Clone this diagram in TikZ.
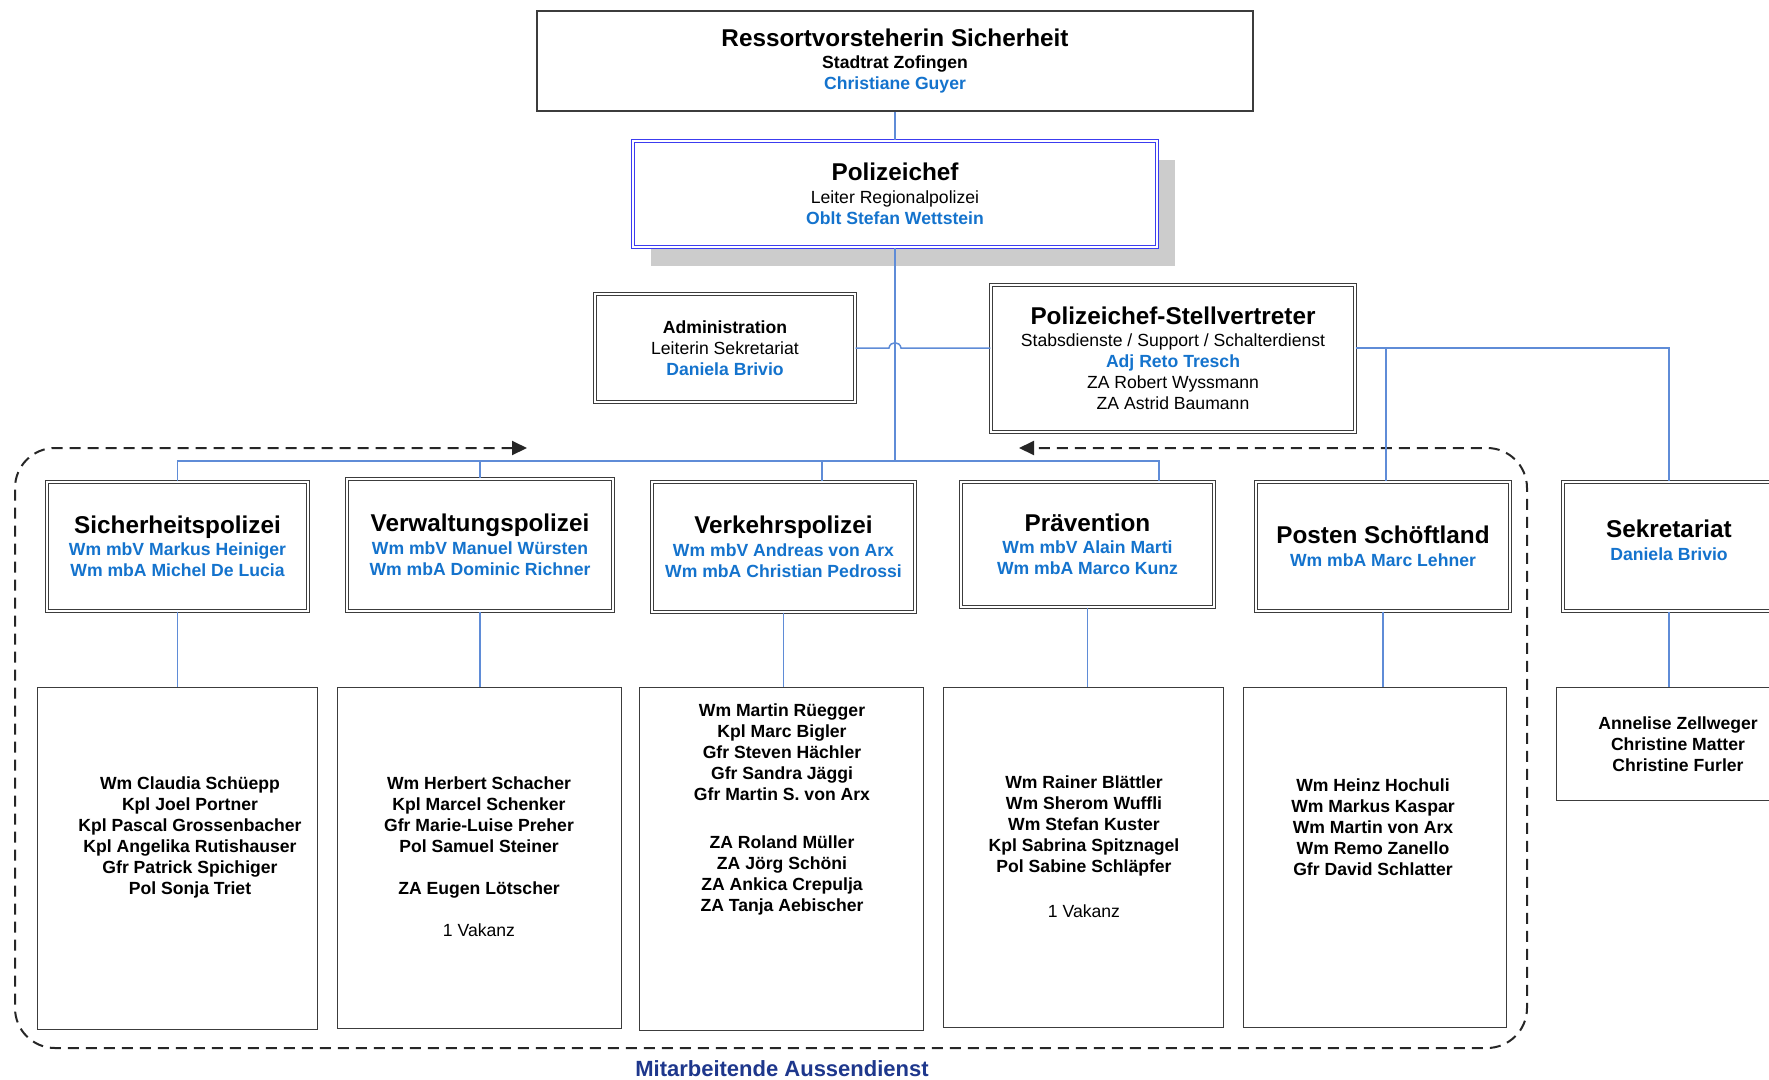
\documentclass[tikz,border=0pt]{standalone}
\usepackage{fontspec}
\setmainfont{Liberation Sans}
\usetikzlibrary{arrows.meta,shadows}
\definecolor{orgblue}{RGB}{20,115,205}
\definecolor{orgnavy}{RGB}{30,55,140}
\definecolor{orgline}{RGB}{95,140,215}
\definecolor{chefblue}{RGB}{60,60,240}
\definecolor{boxframe}{RGB}{60,60,60}
\newcommand{\orgtitle}[1]{{\fontsize{24.3}{26}\selectfont\bfseries #1}}
\newcommand{\orgname}[1]{{\color{orgblue}\bfseries #1}}

\begin{document}
\begin{tikzpicture}[x=1pt, y=-1pt,
    font=\fontsize{17.6}{21}\selectfont,
    every node/.style={align=center, inner sep=0pt},
    plainbox/.style={draw=boxframe, line width=1.5pt, fill=white},
    dblbox/.style={draw=boxframe, double=white, double distance=2pt, line width=1.2pt, fill=white},
    chefbox/.style={draw=chefblue, double=white, double distance=1.6pt, line width=1.3pt, fill=white,
      drop shadow={shadow xshift=18pt, shadow yshift=-19pt, opacity=1, fill=black!20}},
    crew/.style={plainbox, font=\fontsize{17.6}{21}\selectfont\bfseries},
    crewtext/.style={font=\fontsize{17.6}{21}\selectfont\bfseries},
    conn/.style={draw=orgline, line width=1.5pt},
    group/.style={draw=black!85, line width=2pt, dash pattern=on 11pt off 7pt, rounded corners=40pt}]
  \useasboundingbox (0,0) rectangle (1769,1079);

  \draw[group, {Triangle[length=15pt,width=14pt]}-{Triangle[length=15pt,width=14pt]}]
    (527,448) -- (15,448) -- (15,1048) -- (1527,1048) -- (1527,448) -- (1019,448);
  \node[font=\fontsize{22}{24}\selectfont\bfseries, text=orgnavy] (aussen) at (782,1069) {Mitarbeitende Aussendienst};

  \node[plainbox, minimum width=716pt, minimum height=100pt] (rvs) at (895,61)
    {\orgtitle{Ressortvorsteherin Sicherheit}\\[1.5pt] \textbf{Stadtrat Zofingen}\\ \orgname{Christiane Guyer}};
  \node[chefbox, minimum width=524pt, minimum height=106pt] (chef) at (895,194)
    {\orgtitle{Polizeichef}\\[1.5pt] Leiter Regionalpolizei\\ \orgname{Oblt Stefan Wettstein}};
  \node[dblbox, minimum width=260pt, minimum height=108pt] (adm) at (725,348)
    {\textbf{Administration}\\ Leiterin Sekretariat\\ \orgname{Daniela Brivio}};
  \node[dblbox, minimum width=364pt, minimum height=147pt] (stv) at (1173,358.5)
    {\orgtitle{Polizeichef-Stellvertreter}\\[1.5pt] Stabsdienste / Support / Schalterdienst\\
     \orgname{Adj Reto Tresch}\\ ZA Robert Wyssmann\\ ZA Astrid Baumann};

  \node[dblbox, minimum width=261pt, minimum height=129pt] (sipo) at (177.5,546.5)
    {\orgtitle{Sicherheitspolizei}\\[1.5pt] \orgname{Wm mbV Markus Heiniger}\\ \orgname{Wm mbA Michel De Lucia}};
  \node[dblbox, minimum width=266pt, minimum height=132pt] (vwpo) at (480,545)
    {\orgtitle{Verwaltungspolizei}\\[1.5pt] \orgname{Wm mbV Manuel Würsten}\\ \orgname{Wm mbA Dominic Richner}};
  \node[dblbox, minimum width=263pt, minimum height=130pt] (vkpo) at (783.5,547)
    {\orgtitle{Verkehrspolizei}\\[1.5pt] \orgname{Wm mbV Andreas von Arx}\\ \orgname{Wm mbA Christian Pedrossi}};
  \node[dblbox, minimum width=253pt, minimum height=125pt] (prae) at (1087.5,544.5)
    {\orgtitle{Prävention}\\[1.5pt] \orgname{Wm mbV Alain Marti}\\ \orgname{Wm mbA Marco Kunz}};
  \node[dblbox, minimum width=254pt, minimum height=129pt] (psch) at (1383,546.5)
    {\orgtitle{Posten Schöftland}\\[1.5pt] \orgname{Wm mbA Marc Lehner}};
  \node[dblbox, minimum width=212pt, minimum height=129pt, text depth=13pt] (sekr) at (1669,546.5)
    {\orgtitle{Sekretariat}\\[1.5pt] \orgname{Daniela Brivio}};

  \node[plainbox, minimum width=280pt, minimum height=342pt] (masipo) at (177.5,858.5) {};
  \node[plainbox, minimum width=284pt, minimum height=341pt] (mavwpo) at (479.5,858) {};
  \node[plainbox, minimum width=284pt, minimum height=343pt] (mavkpo) at (781.5,859) {};
  \node[plainbox, minimum width=280pt, minimum height=340pt] (maprae) at (1083.5,857.5) {};
  \node[plainbox, minimum width=263pt, minimum height=340pt] (mapsch) at (1375,857.5) {};
  \node[crew, minimum width=243pt, minimum height=113pt] (masekr) at (1678,744)
    {Annelise Zellweger\\ Christine Matter\\ Christine Furler};

  \node[crewtext] (txsipo) at (190,837)
    {Wm Claudia Schüepp\\ Kpl Joel Portner\\ Kpl Pascal Grossenbacher\\ Kpl Angelika Rutishauser\\ Gfr Patrick Spichiger\\ Pol Sonja Triet};
  \node[crewtext] (txvwpo) at (479,857)
    {Wm Herbert Schacher\\ Kpl Marcel Schenker\\ Gfr Marie-Luise Preher\\ Pol Samuel Steiner\\[21pt] ZA Eugen Lötscher\\[21pt] \textmd{1 Vakanz}};
  \node[crewtext] (txvkpo) at (782,809)
    {Wm Martin Rüegger\\ Kpl Marc Bigler\\ Gfr Steven Hächler\\ Gfr Sandra Jäggi\\ Gfr Martin S. von Arx\\[27pt]
     ZA Roland Müller\\ ZA Jörg Schöni\\ ZA Ankica Crepulja\\ ZA Tanja Aebischer};
  \node[crewtext] (txprae) at (1084,847)
    {Wm Rainer Blättler\\ Wm Sherom Wuffli\\ Wm Stefan Kuster\\ Kpl Sabrina Spitznagel\\ Pol Sabine Schläpfer\\[24pt] \textmd{1 Vakanz}};
  \node[crewtext] (txpsch) at (1373,827)
    {Wm Heinz Hochuli\\ Wm Markus Kaspar\\ Wm Martin von Arx\\ Wm Remo Zanello\\ Gfr David Schlatter};

  \coordinate (bus) at (895,461);
  \coordinate (hop) at (895,348);
  \coordinate (tap) at (1386,348);
  \draw[conn] (rvs) -- (chef);
  \draw[conn] (chef) -- (bus);
  \draw[conn] (sipo.north) |- (bus) -| ([xshift=71.5pt]prae.north);
  \draw[conn] (vwpo.north) |- (bus);
  \draw[conn] ([xshift=38.5pt]vkpo.north) |- (bus);
  \draw[conn] (adm) -- ([xshift=-6pt]hop) .. controls ([xshift=-5pt,yshift=7pt]hop) and ([xshift=5pt,yshift=7pt]hop) .. ([xshift=6pt]hop) -- (stv.west |- hop);
  \draw[conn] (stv.east |- hop) -| (sekr.north);
  \draw[conn] (tap) -- (tap |- psch.north);
  \draw[conn] (sipo.south) -- (sipo.south |- masipo.north);
  \draw[conn] (vwpo.south) -- (vwpo.south |- mavwpo.north);
  \draw[conn] (vkpo.south) -- (vkpo.south |- mavkpo.north);
  \draw[conn] (prae.south) -- (prae.south |- maprae.north);
  \draw[conn] (psch.south) -- (psch.south |- mapsch.north);
  \draw[conn] (sekr.south) -- (sekr.south |- masekr.north);
\end{tikzpicture}
\end{document}
